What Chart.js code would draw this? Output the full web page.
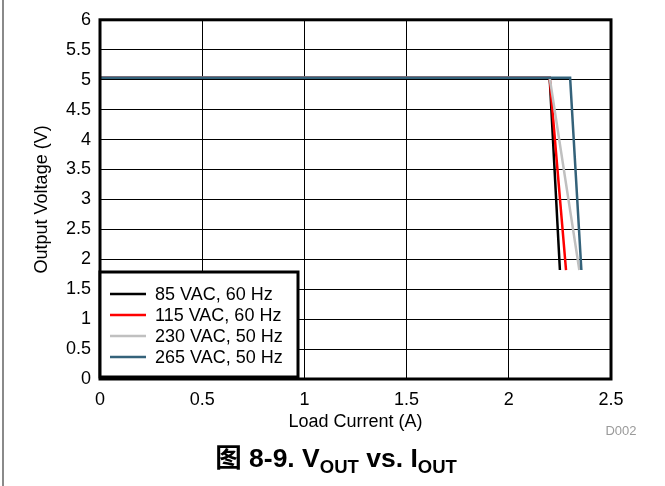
<!DOCTYPE html>
<html>
<head>
<meta charset="utf-8">
<script src="https://cdn.jsdelivr.net/npm/chart.js@4"></script>
<style>
  body { margin: 0; background: #fff; }
  canvas { display: block; }
</style>
</head>
<body>
<canvas id="mycanvas" width="665" height="486"></canvas>
<script>
// load current (A) / output voltage (V) for each line input
var labels = ["85 VAC, 60 Hz", "115 VAC, 60 Hz", "230 VAC, 50 Hz", "265 VAC, 50 Hz"];
var colors = ["#000000", "#ff0000", "#c0c0c0", "#34627a"];

var current85 = [0, 2.20, 2.25];
var volt85 = [5.03, 5.03, 1.82];
var current115 = [0, 2.20, 2.28];
var volt115 = [5.03, 5.03, 1.82];
var current230 = [0, 2.20, 2.345];
var volt230 = [5.03, 5.03, 1.82];
var current265 = [0, 2.30, 2.355];
var volt265 = [5.03, 5.03, 1.82];

var xTicks = [0, 0.5, 1, 1.5, 2, 2.5];
var yTicks = [0, 0.5, 1, 1.5, 2, 2.5, 3, 3.5, 4, 4.5, 5, 5.5, 6];

var FONT = "'Liberation Sans', Arial, sans-serif";

function pts(xs, ys) {
	var out = [];
	for (var i in xs) {
		out.push({x: xs[i], y: ys[i]});
	}
	return out;
}

var series = [
	pts(current85, volt85),
	pts(current115, volt115),
	pts(current230, volt230),
	pts(current265, volt265)
];

var datasets = [];
for (var i = 0; i < series.length; i++) {
	datasets.push({
		label: labels[i],
		data: series[i],
		borderColor: colors[i],
		backgroundColor: colors[i],
		borderWidth: 2.5,
		pointRadius: 0,
		fill: false,
		lineTension: 0,
		order: series.length - 1 - i   // later series drawn on top
	});
}

// frame, legend box, title and page edge
var decor = {
	id: "decor",
	beforeDraw: function(chart) {
		var ctx = chart.ctx;
		ctx.save();
		ctx.fillStyle = "#fff";
		ctx.fillRect(0, 0, chart.width, chart.height);
		ctx.strokeStyle = "#8a8a8a";
		ctx.lineWidth = 2;
		ctx.beginPath();
		ctx.moveTo(3, 0);
		ctx.lineTo(3, chart.height);
		ctx.stroke();
		ctx.restore();
	},
	afterDraw: function(chart) {
		var ctx = chart.ctx;
		var a = chart.chartArea;
		ctx.save();
		// plot frame
		ctx.strokeStyle = "#000";
		ctx.lineWidth = 3;
		ctx.strokeRect(a.left, a.top, a.right - a.left, a.bottom - a.top);

		// legend box
		var bx = a.left, by = a.bottom - 107, bw = 198, bh = 105;
		ctx.fillStyle = "#fff";
		ctx.fillRect(bx, by, bw, bh);
		ctx.lineWidth = 3;
		ctx.strokeRect(bx, by, bw, bh);
		ctx.font = "18px " + FONT;
		ctx.textBaseline = "middle";
		ctx.textAlign = "left";
		chart.data.datasets.forEach(function(ds, k) {
			var y = by + 22 + k * 21;
			ctx.strokeStyle = ds.borderColor;
			ctx.lineWidth = 2.5;
			ctx.beginPath();
			ctx.moveTo(bx + 10, y);
			ctx.lineTo(bx + 46, y);
			ctx.stroke();
			ctx.fillStyle = "#000";
			ctx.fillText(ds.label, bx + 55, y + 1);
		});

		// D002 tag
		ctx.fillStyle = "#9a9a9a";
		ctx.font = "13px " + FONT;
		ctx.textAlign = "center";
		ctx.fillText("D002", 621, 431);

		// figure caption with subscripts
		var big = "bold 26.5px " + FONT + ", 'Noto Sans CJK SC'";
		var small = "bold 18.5px " + FONT;
		var parts = [
			["图 8-9. V", big, 0],
			["OUT", small, 6],
			[" vs. I", big, 0],
			["OUT", small, 6]
		];
		var total = 0;
		parts.forEach(function(p) { ctx.font = p[1]; total += ctx.measureText(p[0]).width; });
		var x = 336 - total / 2;
		ctx.fillStyle = "#000";
		ctx.textAlign = "left";
		ctx.textBaseline = "alphabetic";
		parts.forEach(function(p) {
			ctx.font = p[1];
			ctx.fillText(p[0], x, 467 + p[2]);
			x += ctx.measureText(p[0]).width;
		});
		ctx.restore();
	}
};

var ctx = document.getElementById("mycanvas");

var LineGraph = new Chart(ctx, {
	type: "line",
	data: { datasets: datasets },
	options: {
		responsive: false,
		animation: false,
		devicePixelRatio: 1,
		layout: { padding: { left: 27, top: 19, right: 54, bottom: 49 } },
		plugins: {
			legend: { display: false },
			tooltip: { enabled: false }
		},
		scales: {
			x: {
				type: "linear",
				min: 0,
				max: 2.5,
				afterBuildTicks: function(scale) {
					scale.ticks = xTicks.map(function(v) { return {value: v}; });
				},
				afterFit: function(scale) { scale.height = 58; },
				grid: { color: "#000", lineWidth: 1, drawTicks: false },
				border: { display: false },
				ticks: {
					padding: 10,
					color: "#000",
					font: { family: FONT, size: 18 },
					callback: function(v) { return String(v); }
				},
				title: {
					display: true,
					text: "Load Current (A)",
					color: "#000",
					font: { family: FONT, size: 18 }
				}
			},
			y: {
				type: "linear",
				min: 0,
				max: 6,
				afterBuildTicks: function(scale) {
					scale.ticks = yTicks.map(function(v) { return {value: v}; });
				},
				afterFit: function(scale) { scale.width = 73; },
				grid: { color: "#000", lineWidth: 1, drawTicks: false },
				border: { display: false },
				ticks: {
					padding: 9,
					color: "#000",
					font: { family: FONT, size: 18 },
					callback: function(v) { return String(v); }
				},
				title: {
					display: true,
					text: "Output Voltage (V)",
					color: "#000",
					font: { family: FONT, size: 18 }
				}
			}
		}
	},
	plugins: [decor]
});
</script>
</body>
</html>
